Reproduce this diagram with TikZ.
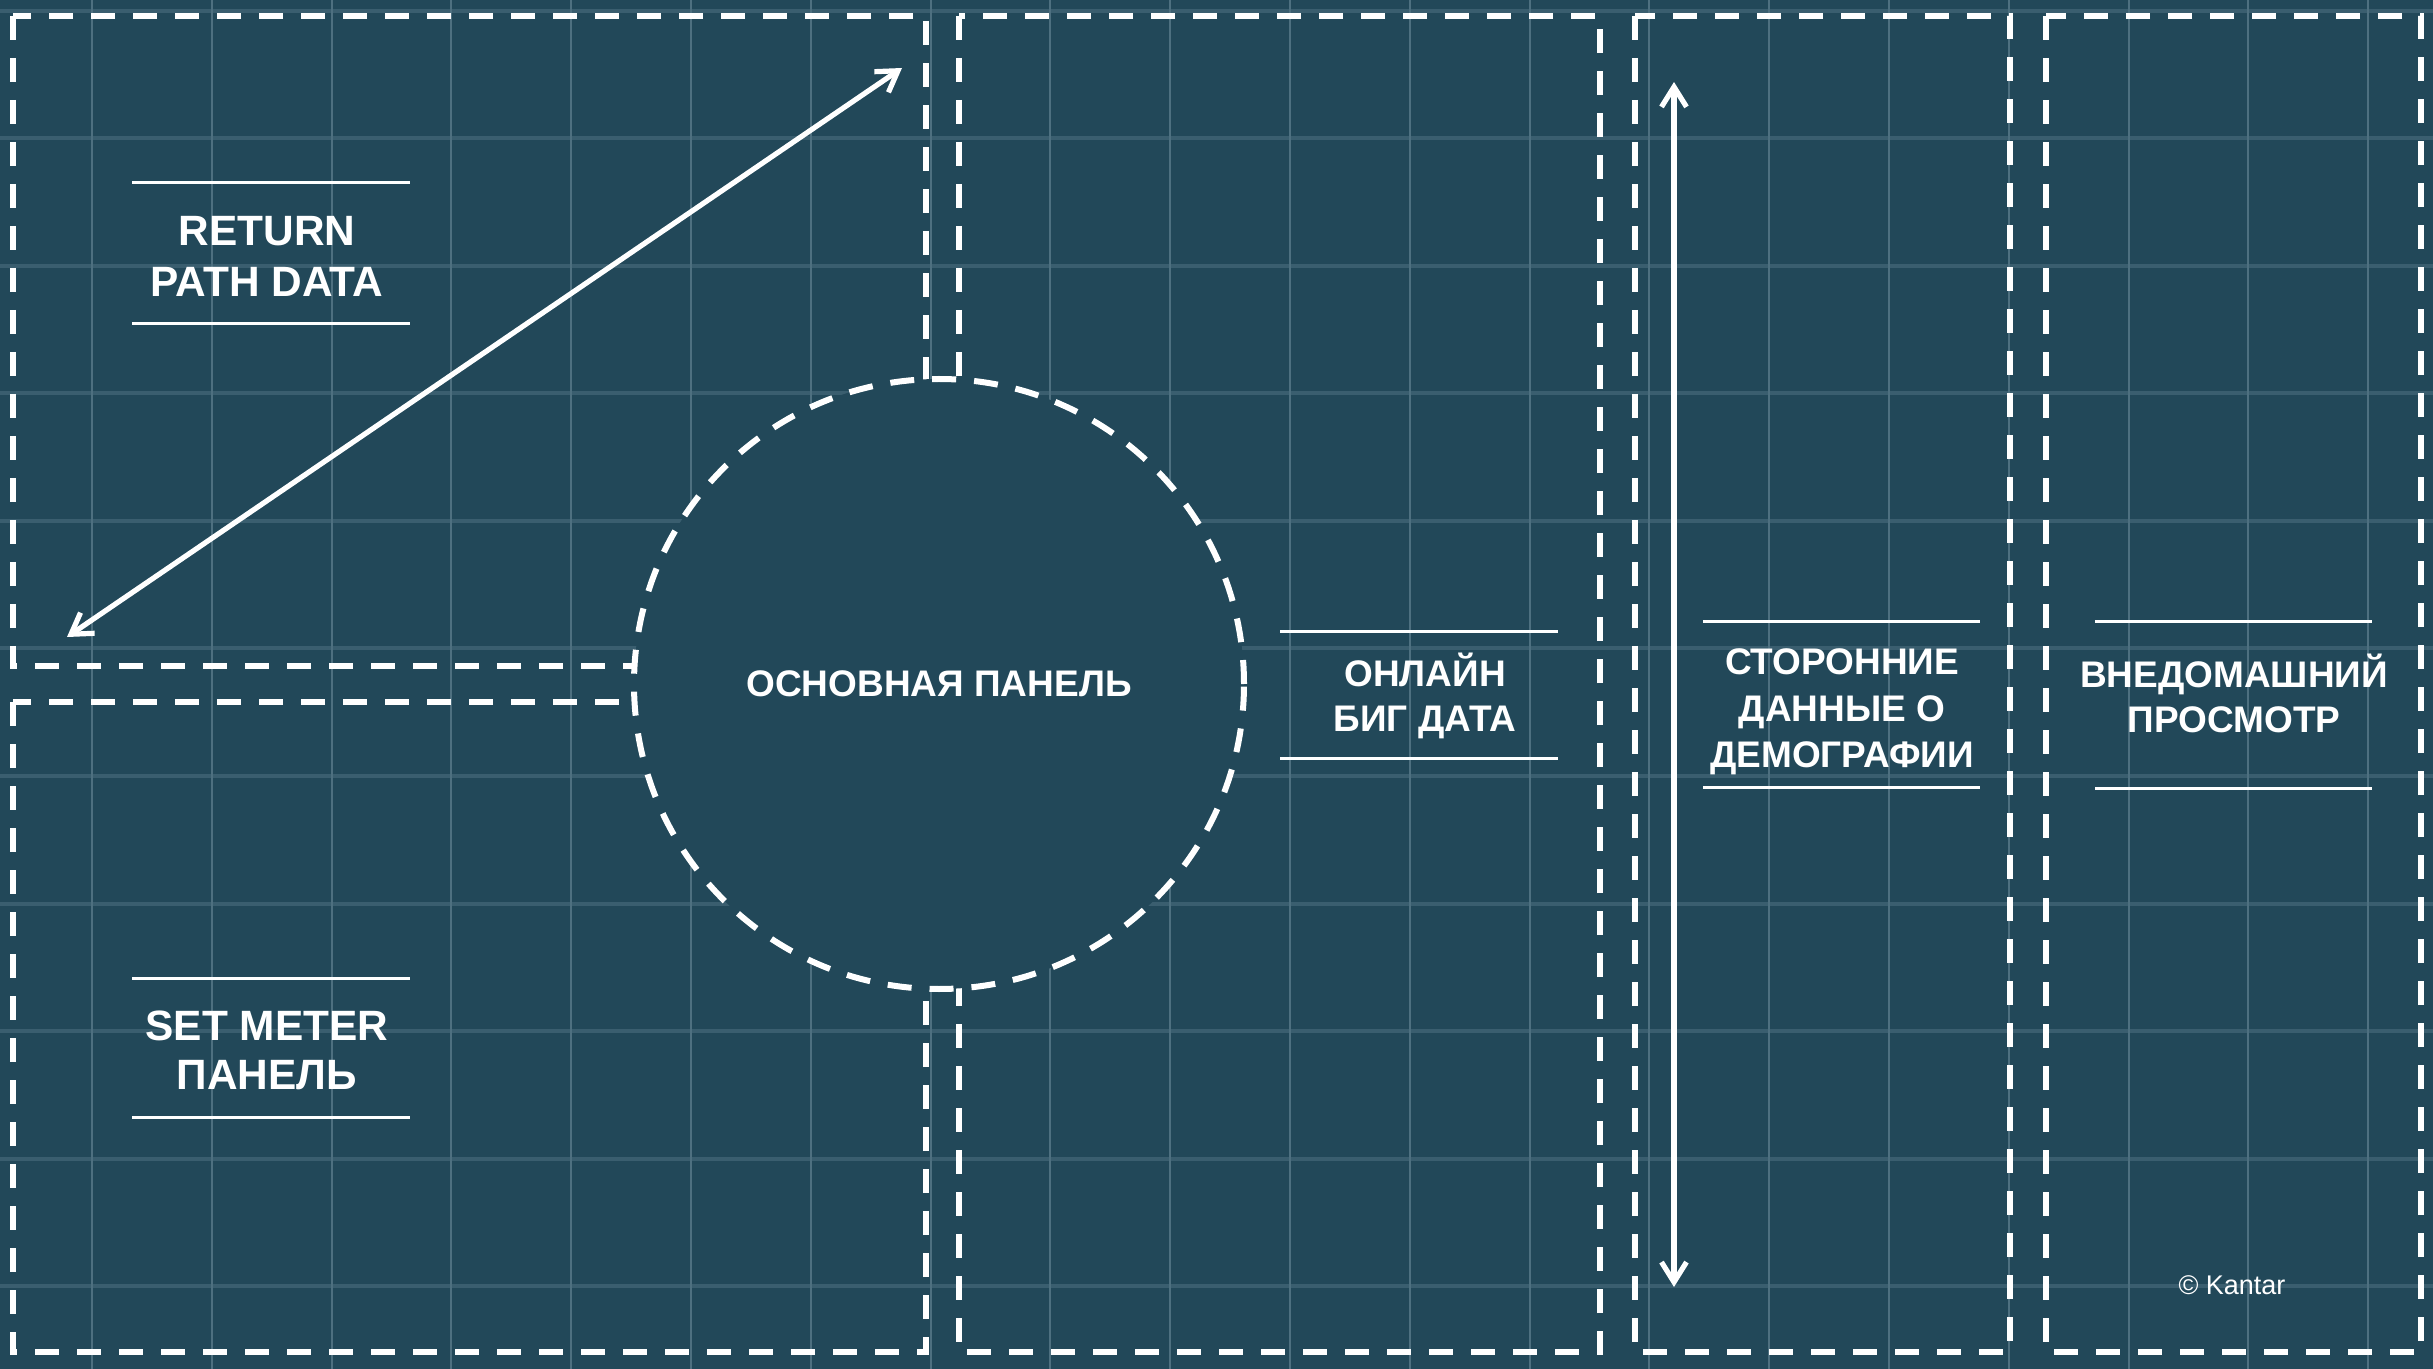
\documentclass[tikz,border=0pt]{standalone}
\usepackage{fontspec}
\setmainfont{Liberation Sans}
\usetikzlibrary{arrows.meta}
\definecolor{bg}{RGB}{34,72,89}
\definecolor{gridh}{RGB}{58,94,111}
\definecolor{gridv}{RGB}{78,112,128}
\begin{document}
\begin{tikzpicture}[x=0.5pt,y=-0.5pt,
  box/.style={draw=white,line width=3pt,dash pattern=on 12pt off 9pt},
  rule/.style={draw=white,line width=1.5pt},
  lbl/.style={text=white,font=\bfseries\fontsize{18.5pt}{22pt}\selectfont,anchor=base,inner sep=0pt},
  lblbig/.style={lbl,font=\bfseries\fontsize{21.2pt}{25pt}\selectfont},
  tipb/.tip={Straight Barb[length=10pt,width=12.5pt]},
  dbl/.style={draw=white,line width=2.6pt,line cap=round,line join=round,tipb-tipb}
]
\useasboundingbox (0,0) rectangle (2433,1369);
\fill[bg] (0,0) rectangle (2433,1369);
% grid
\foreach \k in {0,...,10} \draw[gridh,line width=2pt] (0,{11+127.5*\k}) -- (2433,{11+127.5*\k});
\foreach \k in {0,...,19} \draw[gridv,line width=1pt] ({92+119.8*\k},0) -- ({92+119.8*\k},1369);
% dashed regions
\draw[box] (13,16) rectangle (926,666);
\draw[box] (13,702) rectangle (926,1352);
\draw[box] (959,16) rectangle (1600,1352);
\draw[box] (1635,16) rectangle (2010,1352);
\draw[box] (2046,16) rectangle (2421,1352);
% core circle
\node[circle,draw=white,fill=bg,line width=3pt,dash pattern=on 12pt off 9pt,
      minimum size=305pt,inner sep=0pt,text=white,
      font=\bfseries\fontsize{18.5pt}{22pt}\selectfont] (core) at (939,684) {ОСНОВНАЯ ПАНЕЛЬ};
% label rules
\draw[rule] (132,183) -- (410,183);
\draw[rule] (132,324) -- (410,324);
\draw[rule] (132,978) -- (410,978);
\draw[rule] (132,1117) -- (410,1117);
\draw[rule] (1280,632) -- (1558,632);
\draw[rule] (1280,758) -- (1558,758);
\draw[rule] (1703,622) -- (1980,622);
\draw[rule] (1703,787) -- (1980,787);
\draw[rule] (2095,622) -- (2372,622);
\draw[rule] (2095,788) -- (2372,788);
% labels
\node[lblbig] (rpd1) at (267,246) {RETURN};
\node[lblbig] (rpd2) at (267,297) {PATH DATA};
\node[lblbig] (smp1) at (267,1040) {SET METER};
\node[lblbig] (smp2) at (267,1089) {ПАНЕЛЬ};
\node[lbl] (obd1) at (1425,687) {ОНЛАЙН};
\node[lbl] (obd2) at (1425,732) {БИГ ДАТА};
\node[lbl] (dem1) at (1842,675) {СТОРОННИЕ};
\node[lbl] (dem2) at (1842,721) {ДАННЫЕ О};
\node[lbl] (dem3) at (1842,767) {ДЕМОГРАФИИ};
\node[lbl] (out1) at (2234,688) {ВНЕДОМАШНИЙ};
\node[lbl] (out2) at (2234,733) {ПРОСМОТР};
\node[text=white,anchor=base,inner sep=0pt,font=\fontsize{13.5pt}{16pt}\selectfont] (copy) at (2232,1294) {© Kantar};
% arrows
\coordinate (dA) at (67,637);
\coordinate (dB) at (902,68);
\draw[dbl] (dA) -- (dB);
\coordinate (vA) at (1674,82);
\coordinate (vB) at (1674,1287);
\draw[dbl] (vA) -- (vB);
\end{tikzpicture}
\end{document}
